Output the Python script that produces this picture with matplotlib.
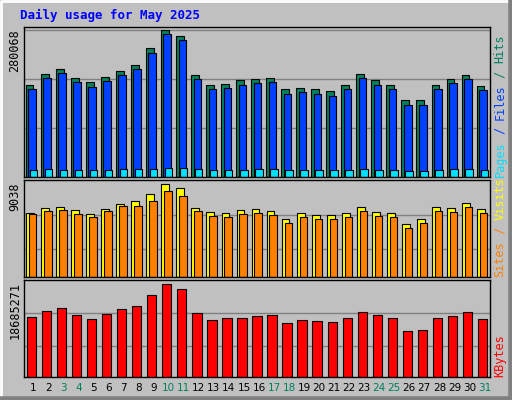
import matplotlib
matplotlib.use("Agg")
import matplotlib.pyplot as plt

days = list(range(1, 32))
weekends = [3, 4, 10, 11, 17, 18, 24, 25, 31]
hits = [176000,197000,206000,189000,180000,191000,202000,214000,246000,280068,269000,195000,176000,178000,
        184000,187000,189000,167000,170000,167000,163000,176000,197000,184000,176000,146000,146000,176000,187000,195000,174000]
files = [168000,189000,198000,181000,172000,183000,194000,205000,237000,272000,260000,187000,168000,170000,
         176000,179000,181000,159000,162000,159000,155000,168000,189000,176000,168000,138000,138000,168000,179000,187000,166000]
pages = [14000,14500,14000,13500,13000,14000,14500,15500,16000,18000,17500,14500,13500,13500,
         14000,14500,14500,12500,13000,13000,12500,13500,15000,14000,13500,12000,12000,14000,14500,15000,14000]
visits = [6190,6680,6780,6480,6090,6580,7070,7370,8060,9038,8640,6680,6290,6190,6480,6580,6390,5600,6190,5990,
          5990,6190,6780,6290,6190,5110,5600,6780,6680,7170,6580]
sites = [6090,6380,6480,6090,5790,6380,6870,6870,7370,8350,7860,6380,5900,5800,6090,6190,6000,5210,5800,5600,
         5600,5800,6390,5900,5800,4720,5210,6390,6290,6780,6190]
kbytes = [11980000,13200000,13800000,12400000,11600000,12600000,13600000,14200000,16500000,18685271,17700000,
          12800000,11400000,11800000,11800000,12200000,12400000,10800000,11400000,11200000,11000000,11800000,
          13000000,12400000,11800000,9300000,9500000,11800000,12200000,13000000,11600000]

BG = "#C0C0C0"
W, H = 512, 400
fig = plt.figure(figsize=(5.12, 4.0), dpi=100, facecolor=BG)
MONO = "DejaVu Sans Mono"
X0, X1 = 24, 490

def ax_px(x0, y0, x1, y1):
    return fig.add_axes([x0 / W, 1 - y1 / H, (x1 - x0) / W, (y1 - y0) / H])

bord = fig.add_axes([0, 0, 1, 1]); bord.set_axis_off(); bord.set_xlim(0, W); bord.set_ylim(H, 0)
bord.plot([1, 1, W - 1], [H - 1, 1, 1], color="white", lw=2)
bord.plot([1, W - 1, W - 1], [H - 1, H - 1, 1], color="#808080", lw=4)

fig.text(20 / W, 1 - 15 / H, "Daily usage for May 2025", color="#0000FF", fontsize=9,
         fontweight="bold", family=MONO, va="center")

panels = [(27, 177), (180, 277), (280, 377)]
axes = []
for (y0, y1) in panels:
    a = ax_px(X0, y0, X1, y1)
    a.set_facecolor(BG)
    a.set_xlim(0.5, 31.5)
    a.set_xticks([]); a.set_yticks([])
    for s in a.spines.values():
        s.set_color("black"); s.set_linewidth(1)
    axes.append(a)

ec = "black"
a1, a2, a3 = axes
a1.set_ylim(0, 280068 * 1.02)
for y in [280068 / 3, 280068 * 2 / 3, 280068]:
    a1.axhline(y, color="#808080", lw=1, zorder=0)
a1.bar([d - 0.13 for d in days], hits, width=0.52, color="#00805C", edgecolor=ec, lw=0.8)
a1.bar([d + 0.03 for d in days], files, width=0.5, color="#0040FF", edgecolor=ec, lw=0.8)
a1.bar([d + 0.12 for d in days], pages, width=0.5, color="#00E0FF", edgecolor=ec, lw=0.8)

a2.set_ylim(0, 9038 * 1.04)
for frac in [0.3, 0.66]:
    a2.axhline(9038 * frac, color="#808080", lw=1, zorder=0)
a2.bar([d - 0.1 for d in days], visits, width=0.52, color="#FFFF00", edgecolor=ec, lw=0.8)
a2.bar([d + 0.08 for d in days], sites, width=0.5, color="#FF8000", edgecolor=ec, lw=0.8)

a3.set_ylim(0, 18685271 * 1.04)
for frac in [0.33, 0.69]:
    a3.axhline(18685271 * frac, color="#808080", lw=1, zorder=0)
a3.bar(days, kbytes, width=0.62, color="#FF0000", edgecolor=ec, lw=0.8)

for (y0, y1), lab in zip(panels, ["280068", "9038", "18685271"]):
    fig.text(15 / W, 1 - (y0 + 2) / H, lab, rotation=90, fontsize=8.5, family=MONO,
             ha="center", va="top", color="black")

fs = 8.5
cw = 0.602 * fs * 100 / 72
def legend(parts, ybottom):
    y = ybottom
    for txt, col in parts:
        fig.text(500 / W, 1 - y / H, txt, rotation=90, fontsize=fs, family=MONO,
                 ha="center", va="bottom", color=col)
        y -= len(txt) * cw

legend([("Pages", "#00E0FF"), (" / ", "#0040FF"), ("Files", "#0040FF"), (" / ", "#00805C"), ("Hits", "#00805C")], 177)
legend([("Sites", "#FF8000"), (" / ", "#FF8000"), ("Visits", "#FFFF00")], 277)
legend([("KBytes", "#FF0000")], 377)

for d in days:
    x = X0 + (d - 0.5) / 31 * (X1 - X0) + 2
    fig.text(x / W, 1 - 388 / H, str(d), fontsize=7.5, family="DejaVu Sans", ha="center", va="center",
             color="#00805C" if d in weekends else "black")

fig.savefig("out.png", dpi=100, facecolor=BG)
